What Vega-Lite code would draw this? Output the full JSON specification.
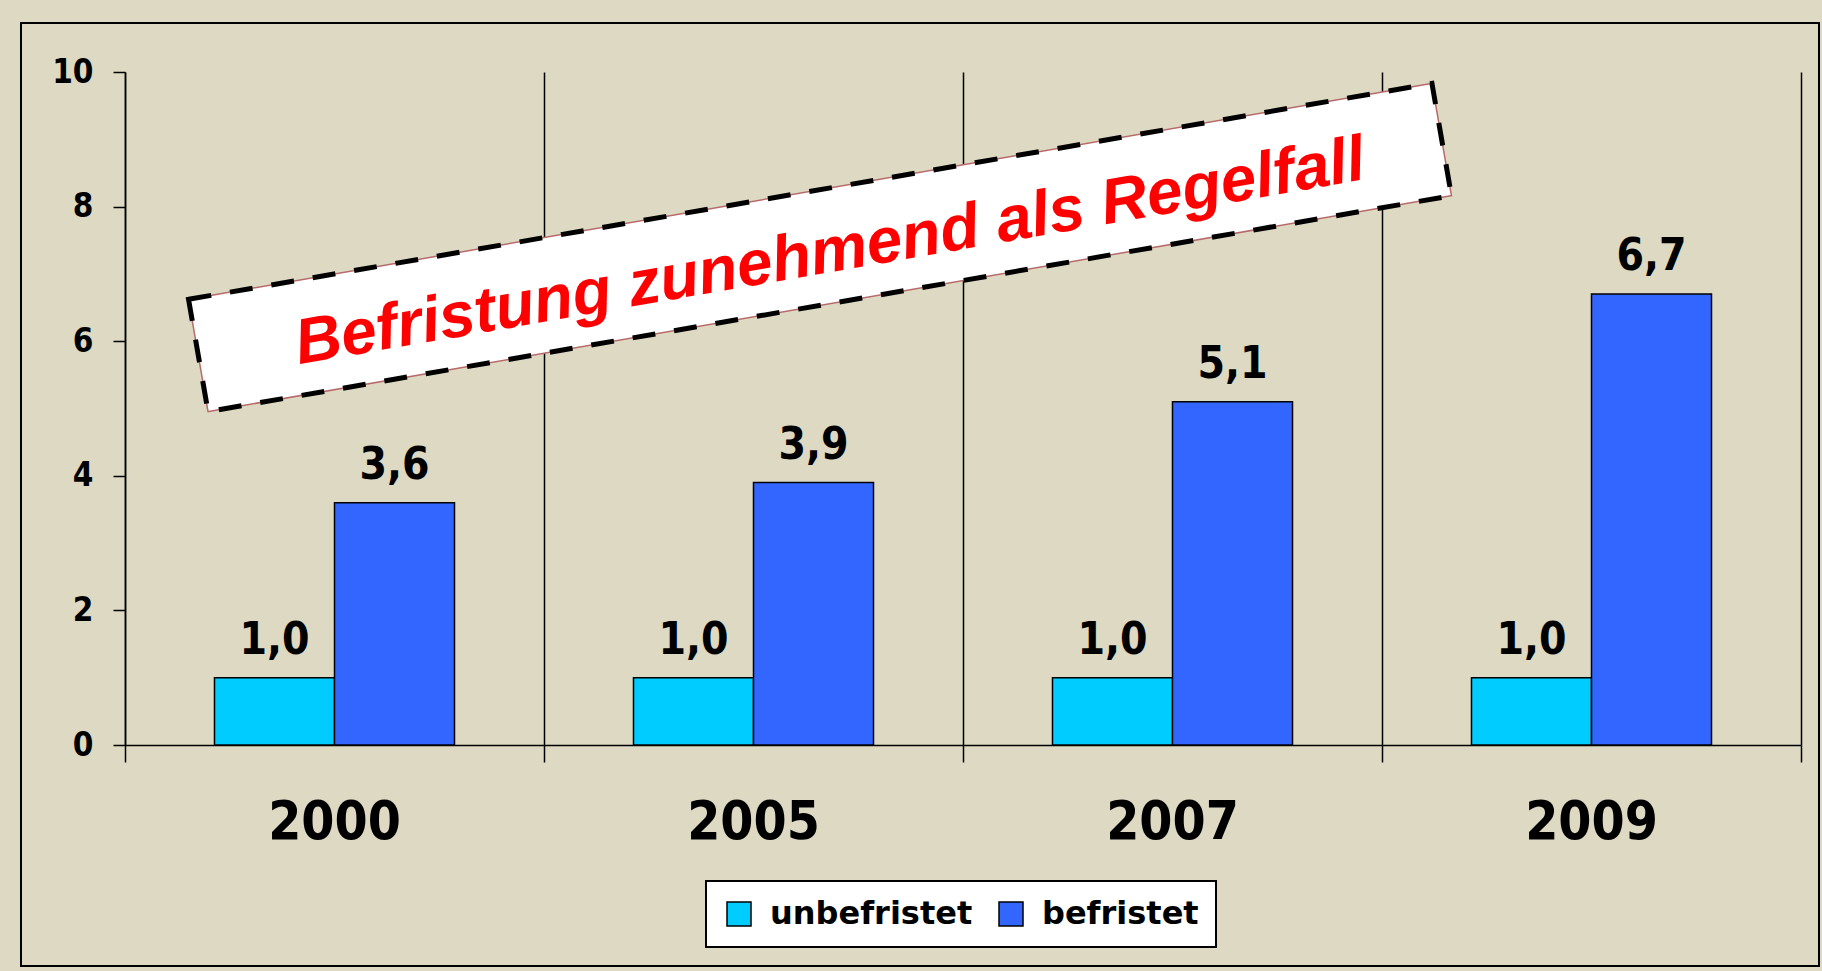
{
  "$schema": "https://vega.github.io/schema/vega-lite/v6.json",
  "width": 1798,
  "height": 943,
  "autosize": {"type": "none"},
  "padding": {"left": 21, "top": 23, "right": 3, "bottom": 5},
  "background": "#DDD9C3",
  "config": {
    "view": {"fill": "#DDD9C3", "stroke": "#000000", "strokeWidth": 2},
    "locale": {"number": {"decimal": ",", "thousands": ".", "grouping": [3], "currency": ["", " €"]}},
    "axis": {"labelColor": "#000000", "domainColor": "#000000", "tickColor": "#000000"}
  },
  "datasets": {
    "bars": [
      {"jahr": "2000", "typ": "unbefristet", "wert": 1.0},
      {"jahr": "2000", "typ": "befristet", "wert": 3.6},
      {"jahr": "2005", "typ": "unbefristet", "wert": 1.0},
      {"jahr": "2005", "typ": "befristet", "wert": 3.9},
      {"jahr": "2007", "typ": "unbefristet", "wert": 1.0},
      {"jahr": "2007", "typ": "befristet", "wert": 5.1},
      {"jahr": "2009", "typ": "unbefristet", "wert": 1.0},
      {"jahr": "2009", "typ": "befristet", "wert": 6.7}
    ],
    "note": [
      {"label": "Befristung zunehmend als Regelfall", "cx": 1.6587, "cy": 7.392}
    ]
  },
  "layer": [
    {
      "data": {"name": "bars"},
      "encoding": {
        "x": {
          "field": "jahr", "type": "nominal", "sort": null,
          "scale": {"type": "band", "domain": ["2000", "2005", "2007", "2009"], "range": [104, 1780], "paddingInner": 0, "paddingOuter": 0},
          "axis": {"orient": "bottom", "offset": -221, "ticks": false, "domain": true, "domainWidth": 1.5, "grid": false, "title": null, "labelAngle": 0, "labelFont": "DejaVu Sans Condensed, DejaVu Sans", "labelFontSize": 53, "labelFontWeight": "bold", "labelPadding": 51}
        },
        "xOffset": {
          "field": "typ", "type": "nominal", "sort": ["unbefristet", "befristet"],
          "scale": {"domain": ["unbefristet", "befristet"], "paddingInner": 0, "paddingOuter": 0.7458}
        },
        "y": {
          "field": "wert", "type": "quantitative",
          "scale": {"domain": [0, 10], "range": [722, 49], "nice": false, "zero": true},
          "axis": {"orient": "left", "offset": -104, "values": [0, 2, 4, 6, 8, 10], "format": "d", "tickSize": 12, "tickWidth": 1.5, "domainWidth": 1.5, "grid": false, "title": null, "labelFont": "DejaVu Sans Condensed, DejaVu Sans", "labelFontSize": 33, "labelFontWeight": "bold", "labelPadding": 20}
        }
      },
      "layer": [
        {
          "mark": {"type": "bar", "stroke": "#000000", "strokeWidth": 1.5, "opacity": 1},
          "encoding": {
            "color": {
              "field": "typ", "type": "nominal",
              "scale": {"domain": ["unbefristet", "befristet"], "range": ["#00CCFF", "#3366FF"]},
              "legend": {
                "orient": "none", "legendX": 685, "legendY": 858, "direction": "horizontal", "title": null,
                "fillColor": "#FFFFFF", "strokeColor": "#000000", "padding": 17,
                "symbolType": "square", "symbolSize": 576, "symbolStrokeColor": "#000000", "symbolStrokeWidth": 1.5, "symbolOpacity": 1,
                "labelFont": "DejaVu Sans", "labelFontSize": 32, "labelFontWeight": "bold", "labelColor": "#000000",
                "labelOffset": 15, "columnPadding": 22, "labelLimit": 0,
                "encode": {"legend": {"update": {"strokeWidth": {"value": 2}}}}
              }
            }
          }
        },
        {
          "mark": {"type": "text", "baseline": "alphabetic", "align": "center", "dy": -24, "font": "DejaVu Sans Condensed, DejaVu Sans", "fontSize": 44, "fontWeight": "bold", "color": "#000000"},
          "encoding": {
            "text": {"field": "wert", "type": "quantitative", "format": ".1f"}
          }
        }
      ]
    },
    {
      "data": {"name": "note"},
      "encoding": {
        "x": {
          "field": "cx", "type": "quantitative",
          "scale": {"domain": [0, 4], "range": [104, 1780], "nice": false, "zero": false},
          "axis": {"orient": "top", "offset": -739, "values": [0, 1, 2, 3, 4], "labels": false, "domain": false, "ticks": true, "tickSize": 17, "tickWidth": 1.5, "tickColor": "#000000", "grid": true, "gridColor": "#000000", "gridWidth": 1.5, "gridOpacity": 1, "title": null}
        },
        "y": {
          "field": "cy", "type": "quantitative",
          "scale": {"domain": [0, 10], "range": [722, 49], "nice": false, "zero": true},
          "axis": null
        }
      },
      "layer": [
        {
          "mark": {"type": "point", "shape": "M-1,-0.0903H1V0.0903H-1Z", "size": 1592644, "angle": -9.85, "filled": true, "fill": "#FFFFFF", "fillOpacity": 1, "stroke": "#B86A6A", "strokeWidth": 1.5, "opacity": 1}
        },
        {
          "mark": {"type": "point", "shape": "M-1,-0.0903H1V0.0903H-1Z", "size": 1592644, "angle": -9.85, "filled": false, "fillOpacity": 0, "stroke": "#000000", "strokeWidth": 5, "strokeDash": [23, 19], "opacity": 1}
        },
        {
          "mark": {"type": "text", "angle": -9.85, "align": "center", "baseline": "alphabetic", "dx": 9, "dy": 26, "font": "Liberation Sans", "fontSize": 64, "fontWeight": "bold", "fontStyle": "italic", "color": "#FF0000"},
          "encoding": {"text": {"field": "label", "type": "nominal"}}
        }
      ]
    }
  ],
  "resolve": {
    "scale": {"x": "independent", "y": "independent"},
    "axis": {"x": "independent", "y": "independent"}
  }
}
